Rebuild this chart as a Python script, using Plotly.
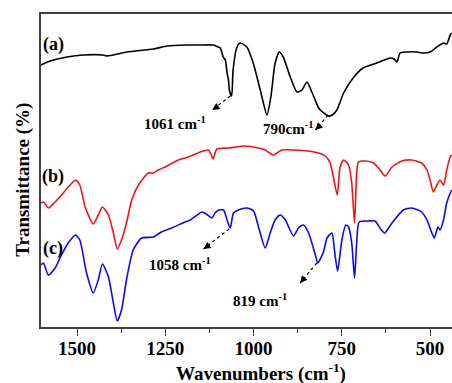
import plotly.graph_objects as go

# ---- data (wavenumber in cm-1, transmittance in arbitrary units) ----
wn_a = [1602, 1576, 1528, 1482, 1426, 1415, 1358, 1284, 1245, 1189, 1151, 1114, 1100, 1094, 1086,
        1080, 1075, 1071, 1068, 1062, 1058, 1047, 1038, 1019, 1001, 981, 962, 951, 939, 927, 916,
        896, 877, 863, 849, 835, 817, 811, 797, 789, 777, 764, 745, 718, 690, 651, 613, 602, 594,
        585, 566, 538, 519, 500, 481, 462, 453, 443, 439]
t_a = [262, 266, 270, 272, 272, 271, 275, 278, 281, 282, 282, 282, 280, 279, 270,
       267, 254, 247, 236, 231, 257, 280, 284, 280, 264, 237, 212, 230, 264, 275, 270,
       250, 235, 237, 245, 235, 220, 217, 213, 211, 212, 217, 234, 249, 259, 264, 269, 268, 265,
       274, 275, 275, 274, 275, 280, 284, 283, 292, 294]

wn_b = [1602, 1595, 1581, 1562, 1544, 1525, 1504, 1492, 1477, 1454, 1440, 1428, 1411, 1397, 1386,
        1374, 1360, 1345, 1326, 1298, 1284, 1270, 1251, 1213, 1185, 1151, 1128, 1121, 1115, 1109,
        1104, 1071, 1024, 986, 967, 944, 920, 882, 844, 816, 797, 783, 774, 763, 755, 745, 731,
        722, 714, 708, 703, 684, 660, 646, 627, 608, 580, 552, 524, 509, 500, 491, 481, 472, 462,
        453, 443, 439]
t_b = [124, 125, 119, 125, 132, 140, 147, 142, 120, 103, 112, 120, 112, 94, 78,
       87, 104, 127, 142, 154, 154, 157, 160, 167, 170, 175, 177, 173, 168, 174,
       178, 179, 181, 179, 177, 172, 177, 177, 176, 174, 171, 164, 150, 132, 160, 167, 162,
       144, 104, 154, 165, 166, 164, 159, 151, 160, 166, 167, 164, 157, 147, 135, 142, 147, 142,
       157, 170, 172]

wn_c = [1602, 1595, 1581, 1562, 1544, 1525, 1504, 1492, 1473, 1454, 1440, 1428, 1411, 1397, 1386,
        1374, 1360, 1341, 1317, 1284, 1261, 1232, 1194, 1179, 1146, 1134, 1118, 1109, 1099, 1085,
        1075, 1066, 1057, 1043, 1019, 1000, 986, 967, 953, 939, 925, 910, 887, 873, 859, 844,
        825, 818, 802, 792, 778, 771, 762, 750, 739, 731, 722, 714, 708, 701, 675, 656, 642,
        629, 608, 576, 552, 524, 509, 495, 488, 478, 472, 462, 453, 443, 439]
t_c = [62, 64, 52, 59, 72, 84, 92, 87, 54, 34, 47, 63, 50, 24, 6,
       17, 47, 77, 89, 90, 95, 99, 105, 107, 115, 113, 109, 114, 117, 117,
       107, 99, 114, 117, 119, 116, 100, 79, 94, 107, 112, 107, 91, 99, 102, 94,
       72, 64, 75, 89, 94, 77, 56, 87, 102, 100, 84, 49, 84, 105, 106, 106, 99,
       94, 104, 117, 119, 115, 107, 94, 89, 100, 97, 107, 124, 134, 137]

x_ticks = [1500, 1250, 1000, 750, 500]
x_tick_text = ["1500", "1250", "1000", "750", "500"]

# curve labels: (text, wavenumber, transmittance)
curve_labels = [("(a)", 1567, 283), ("(b)", 1567, 151), ("(c)", 1567, 79)]

# peak annotations: (text, text_x, text_y, arrow_tail_x, arrow_tail_y, head_x, head_y, head_ax, head_ay)
peak_notes = [
    ("1061 cm<sup>-1</sup>", 1222, 204, 1066, 231, 1117, 217, 6, -4),
    ("790cm<sup>-1</sup>", 902, 199, 789, 212, 825, 197, 5, -5),
    ("1058 cm<sup>-1</sup>", 1207, 63, 1069, 98, 1142, 78, 6, -4),
    ("819 cm<sup>-1</sup>", 981, 27, 821, 64, 868, 44, 4, -5),
]

SERIF = "Liberation Serif"

fig = go.Figure()
for wn, t, col in [(wn_a, t_a, "#000000"), (wn_b, t_b, "#f01414"), (wn_c, t_c, "#0a0af0")]:
    fig.add_trace(go.Scatter(x=wn, y=t, mode="lines",
                             line=dict(color=col, width=1.6, shape="spline", smoothing=0.6),
                             showlegend=False, hoverinfo="skip"))

annotations = []
for txt, x, y in curve_labels:
    annotations.append(dict(x=x, y=y, xref="x", yref="y", text=txt, showarrow=False,
                            font=dict(family=SERIF, size=18, color="black", weight="bold"),
                            xanchor="center", yanchor="middle"))

shapes = []
for txt, tx, ty, x0, y0, hx, hy, ax, ay in peak_notes:
    annotations.append(dict(x=tx, y=ty, xref="x", yref="y", text=txt, showarrow=False,
                            font=dict(family=SERIF, size=15, color="black", weight="bold"),
                            xanchor="center", yanchor="middle"))
    shapes.append(dict(type="line", xref="x", yref="y", x0=x0, y0=y0, x1=hx, y1=hy,
                       line=dict(color="black", width=1.2, dash="dot")))
    annotations.append(dict(x=hx, y=hy, xref="x", yref="y", text="", showarrow=True,
                            ax=ax, ay=ay, axref="pixel", ayref="pixel",
                            arrowhead=2, arrowsize=1.2, arrowwidth=1.2, arrowcolor="black"))

annotations.append(dict(x=0.535, y=-0.145, xref="paper", yref="paper",
                        text="Wavenumbers (cm<sup>-1</sup>)", showarrow=False,
                        font=dict(family=SERIF, size=19, color="black", weight="bold"),
                        xanchor="center", yanchor="middle"))
annotations.append(dict(x=-0.044, y=0.47, xref="paper", yref="paper",
                        text="Transmittance (%)", showarrow=False, textangle=-90,
                        font=dict(family=SERIF, size=19, color="black", weight="bold"),
                        xanchor="center", yanchor="middle"))

fig.update_layout(
    width=452, height=383,
    margin=dict(l=41, r=0, t=14, b=56),
    paper_bgcolor="white", plot_bgcolor="white",
    annotations=annotations, shapes=shapes,
    xaxis=dict(range=[1602, 438], tickvals=x_ticks, ticktext=x_tick_text,
               ticks="outside", ticklen=7, tickwidth=1.3, tickcolor="#404040",
               ticklabelstandoff=-4,
               showline=True, linecolor="#404040", linewidth=1.5, mirror=True,
               showgrid=False, zeroline=False,
               minor=dict(dtick=125, tick0=0, ticks="outside", ticklen=4, tickcolor="#404040", showgrid=False),
               tickfont=dict(family=SERIF, size=19, color="black", weight="bold")),
    yaxis=dict(range=[0, 313], showticklabels=False, ticks="",
               showline=True, linecolor="#404040", linewidth=1.5, mirror=False,
               showgrid=False, zeroline=False),
)

fig.write_html("out.html")
